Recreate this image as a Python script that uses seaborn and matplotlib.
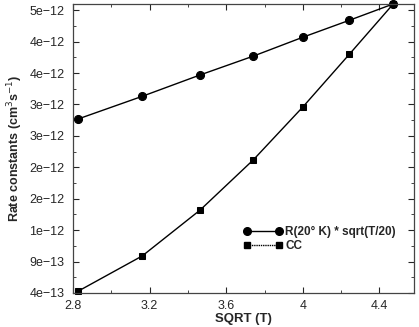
import numpy as np
import pandas as pd
import matplotlib
matplotlib.use("Agg")
import matplotlib.pyplot as plt
import seaborn as sns
from matplotlib.lines import Line2D
from matplotlib.ticker import FixedLocator, MultipleLocator

# values
sqrt_t = [2.828, 3.162, 3.464, 3.742, 4.0, 4.243, 4.472]
rate_r = [3.17e-12, 3.53e-12, 3.87e-12, 4.17e-12, 4.47e-12, 4.74e-12, 5.0e-12]
rate_cc = [4.3e-13, 9.9e-13, 1.72e-12, 2.52e-12, 3.36e-12, 4.2e-12, 5.0e-12]
labels = ["R(20\u00b0 K) * sqrt(T/20)", "CC"]

sns.set_style("ticks")
plt.rcParams["font.family"] = ["Liberation Sans", "DejaVu Sans"]
plt.rcParams["axes.unicode_minus"] = True

df = pd.DataFrame({"x": sqrt_t * 2, "y": rate_r + rate_cc,
                   "series": [labels[0]] * 7 + [labels[1]] * 7})

fig = plt.figure(figsize=(4.19, 3.27), dpi=100)
ax = fig.add_axes([0.174, 0.104, 0.814, 0.884])

sns.lineplot(data=df, x="x", y="y", style="series", markers={labels[0]: "o", labels[1]: "s"},
             dashes=False, color="black", linewidth=1.0, markersize=5.8,
             markeredgecolor="black", legend=False, ax=ax)
for l in ax.lines:
    l.set_clip_on(False)
ax.lines[1].set_markersize(5)

ax.set_xlim(2.8, 4.58)
ax.set_ylim(4e-13, 5e-12)

yt = [4e-13 + k * 5e-13 for k in range(10)]
ax.yaxis.set_major_locator(FixedLocator(yt))
ax.set_yticklabels(["{:.0e}".format(v).replace("-", "\u2212") for v in yt])
ax.yaxis.set_minor_locator(FixedLocator([v + 2.5e-13 for v in yt]))
ax.xaxis.set_major_locator(FixedLocator([2.8, 3.2, 3.6, 4.0, 4.4]))
ax.set_xticklabels(["2.8", "3.2", "3.6", "4", "4.4"])
ax.xaxis.set_minor_locator(MultipleLocator(0.2))

ax.tick_params(which="both", direction="in", top=True, right=True, labelsize=9)
ax.tick_params(axis="y", pad=6)
ax.tick_params(axis="x", pad=5)
ax.tick_params(which="major", length=4, width=0.8)
ax.tick_params(which="minor", length=2, width=0.6)
for s in ax.spines.values():
    s.set_linewidth(0.9)
    s.set_color("#444444")

ax.set_xlabel("SQRT (T)", fontsize=9.5, fontweight="bold", labelpad=1)
ax.set_ylabel("Rate constants (cm$^{3}$s$^{-1}$)", fontsize=9, fontweight="bold", labelpad=3)

handles = [Line2D([], [], color="black", marker="o", markersize=5.5, linewidth=1.0),
           Line2D([], [], color="black", marker="s", markersize=5, linewidth=1.0, linestyle=(0, (1, 0.6)))]
ax.legend(handles, labels, loc="lower right",
          bbox_to_anchor=(0.978, 0.105), frameon=False, numpoints=2, handlelength=3.3,
          handletextpad=0.25, labelspacing=0.15, prop={"weight": "bold", "size": 8.5})

fig.savefig("out.png", dpi=100)
